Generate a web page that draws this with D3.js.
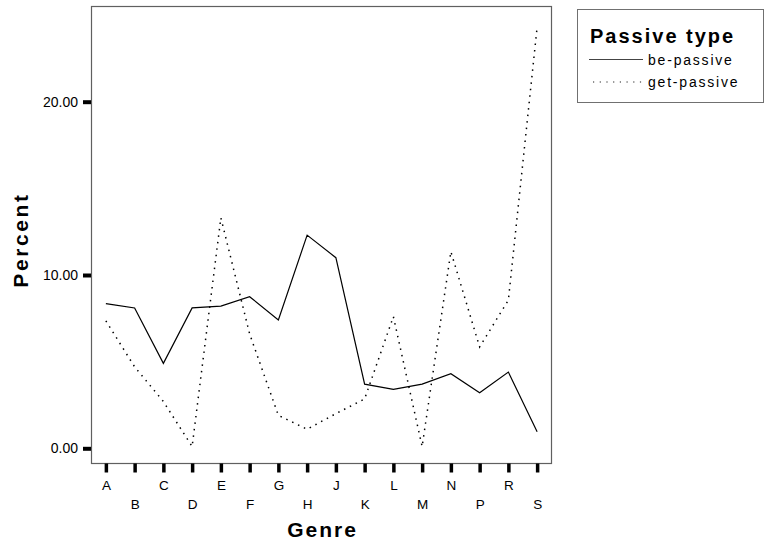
<!DOCTYPE html>
<html>
<head>
<meta charset="utf-8">
<script src="https://cdn.jsdelivr.net/npm/d3@7"></script>
<style>
  html, body { margin: 0; padding: 0; background: #fff; }
  svg { display: block; font-family: Arial, "Liberation Sans", sans-serif; }
  .ytick text { font-size: 14px !important; font-family: Arial, "Liberation Sans", sans-serif !important; }
  .xtick text { font-size: 13.5px !important; font-family: Arial, "Liberation Sans", sans-serif !important; }
</style>
</head>
<body>
<svg id="chart" width="765" height="542"></svg>
<script>
// ---- data ----
const genres = ["A","B","C","D","E","F","G","H","J","K","L","M","N","P","R","S"];
const bePassive  = [8.35, 8.1, 4.9, 8.1, 8.2, 8.75, 7.4, 12.3, 11.0, 3.7, 3.4, 3.7, 4.3, 3.2, 4.4, 0.95];
const getPassive = [7.35, 4.7, 2.7, 0.1, 13.3, 6.6, 1.9, 1.1, 2.0, 2.85, 7.6, 0.1, 11.35, 5.85, 8.55, 24.3];
const yTicks = [0, 10, 20];
const seriesNames = ["be-passive", "get-passive"];
const legendTitle = "Passive type";
const xTitle = "Genre";
const yTitle = "Percent";

// ---- layout ----
const svg = d3.select("#chart");
const plot = { left: 91.5, right: 551.5, top: 6.5, bottom: 463.5 };

const x = d3.scalePoint().domain(genres).range([plot.left, plot.right]).padding(0.5);
const y = d3.scaleLinear().domain([0, 20]).range([448.3, 101.7]);

// frame
svg.append("rect")
  .attr("x", plot.left).attr("y", plot.top)
  .attr("width", plot.right - plot.left).attr("height", plot.bottom - plot.top)
  .attr("fill", "none").attr("stroke", "#606060").attr("stroke-width", 1.2);

// y axis
const yAxis = svg.append("g")
  .attr("class", "ytick")
  .attr("transform", `translate(${plot.left - 0.5},0)`)
  .call(d3.axisLeft(y).tickValues(yTicks).tickFormat(d3.format(".2f")).tickSize(8).tickPadding(5));
yAxis.select(".domain").remove();
yAxis.selectAll(".tick line").attr("stroke", "#000").attr("stroke-width", 4);
yAxis.selectAll(".tick text").attr("fill", "#000");

// x axis
const xAxis = svg.append("g")
  .attr("class", "xtick")
  .attr("transform", `translate(0,${plot.bottom})`)
  .call(d3.axisBottom(x).tickSize(9).tickPadding(8));
xAxis.select(".domain").remove();
xAxis.selectAll(".tick line").attr("stroke", "#000").attr("stroke-width", 3.5);
xAxis.selectAll(".tick text")
  .attr("fill", "#000")
  .attr("transform", (d, i) => i % 2 === 1 ? "translate(0,19)" : null);

// axis titles
svg.append("text")
  .attr("x", (plot.left + plot.right) / 2 + 1).attr("y", 537)
  .attr("text-anchor", "middle")
  .attr("font-size", 21).attr("font-weight", "bold").attr("letter-spacing", 2)
  .text(xTitle);

svg.append("text")
  .attr("transform", `translate(28,${(plot.top + plot.bottom) / 2 + 5}) rotate(-90)`)
  .attr("text-anchor", "middle")
  .attr("font-size", 21).attr("font-weight", "bold").attr("letter-spacing", 2.6)
  .text(yTitle);

// lines
const line = d3.line().x((d, i) => x(genres[i])).y(d => y(d));

svg.append("path")
  .datum(bePassive)
  .attr("d", line)
  .attr("fill", "none").attr("stroke", "#000").attr("stroke-width", 1.2);

svg.append("path")
  .datum(getPassive)
  .attr("d", line)
  .attr("fill", "none").attr("stroke", "#000").attr("stroke-width", 1.5)
  .attr("stroke-dasharray", "1.5,5");

// legend
const lg = svg.append("g");
lg.append("rect")
  .attr("x", 577.5).attr("y", 9.5).attr("width", 186).attr("height", 93)
  .attr("fill", "#fff").attr("stroke", "#707070").attr("stroke-width", 1);
lg.append("text")
  .attr("x", 590).attr("y", 43)
  .attr("font-size", 20).attr("font-weight", "bold").attr("letter-spacing", 2)
  .text(legendTitle);
lg.append("line")
  .attr("x1", 589).attr("x2", 643).attr("y1", 59.5).attr("y2", 59.5)
  .attr("stroke", "#444").attr("stroke-width", 1.2);
lg.append("line")
  .attr("x1", 593).attr("x2", 643).attr("y1", 82).attr("y2", 82)
  .attr("stroke", "#222").attr("stroke-width", 1.2).attr("stroke-dasharray", "1.2,5.5");
lg.append("text")
  .attr("x", 648).attr("y", 64.5)
  .attr("font-size", 14).attr("letter-spacing", 1.8)
  .text(seriesNames[0]);
lg.append("text")
  .attr("x", 648).attr("y", 87)
  .attr("font-size", 14).attr("letter-spacing", 1.8)
  .text(seriesNames[1]);
</script>
</body>
</html>
